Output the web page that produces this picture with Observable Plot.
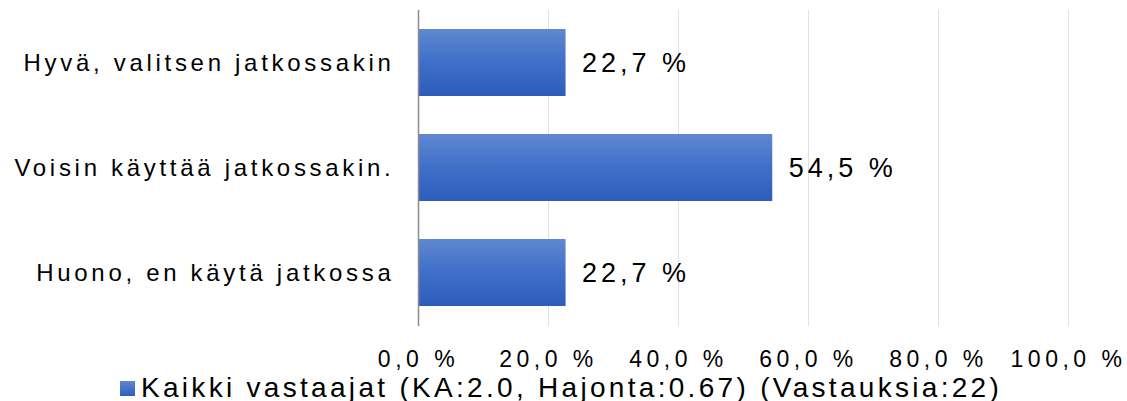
<!DOCTYPE html>
<html>
<head>
<meta charset="utf-8">
<script src="https://cdn.jsdelivr.net/npm/d3@7"></script>
<script src="https://cdn.jsdelivr.net/npm/@observablehq/plot@0.6"></script>
<style>
  body { margin: 0; background: #fff; font-family: "Liberation Sans", Arial, sans-serif; }
  #chart { position: absolute; left: 0; top: 0; }
  #legend { position: absolute; left: 120px; top: 373px; font-size: 28px; line-height: 30px; letter-spacing: 3.3px; color: #000; display: flex; align-items: center; white-space: nowrap; }
  #legend .sw { width: 15px; height: 15px; background: linear-gradient(#5f86cf, #2f5fbd); margin-right: 6px; flex: none; }
</style>
</head>
<body>
<div id="chart"></div>
<div id="legend"><span class="sw"></span><span id="legtext"></span></div>
<script>
const categories = ["Hyvä, valitsen jatkossakin", "Voisin käyttää jatkossakin.", "Huono, en käytä jatkossa"];
const values = [22.7, 54.5, 22.7];
const xTicks = [0, 20, 40, 60, 80, 100];
const seriesName = "Kaikki vastaajat (KA:2.0, Hajonta:0.67) (Vastauksia:22)";

const data = categories.map((c, i) => ({category: c, value: values[i]}));
const fmt = d => d.toFixed(1).replace(".", ",") + " %";

const chart = Plot.plot({
  width: 1127,
  height: 401,
  marginLeft: 418,
  marginRight: 59,
  marginTop: 10,
  marginBottom: 75,
  style: {fontFamily: "Liberation Sans, Arial, sans-serif", background: "#fff"},
  x: {domain: [0, 100], ticks: xTicks, tickFormat: fmt},
  y: {domain: categories, paddingInner: 0.36, paddingOuter: 0.18},
  marks: [
    Plot.gridX(xTicks.filter(d => d > 0), {stroke: "#d9e1f2", strokeOpacity: 1, strokeWidth: 1}),
    Plot.barX(data, {x: "value", y: "category", fill: "url(#bargrad)"}),
    Plot.ruleX([0], {stroke: "#8c8c8c", strokeWidth: 1.5}),
    Plot.text(data, {x: "value", y: "category", text: d => fmt(d.value), textAnchor: "start", dx: 16, fontSize: 27, fill: "#000", className: "vlab"}),
    Plot.axisY({tickSize: 0, tickPadding: 24, fontSize: 24, className: "ylab", label: null}),
    Plot.axisX({ticks: xTicks, tickFormat: fmt, tickSize: 0, tickPadding: 24, fontSize: 23, className: "xlab", label: null})
  ]
});

const svg = d3.select(chart);
const defs = svg.insert("defs", ":first-child");
const g = defs.append("linearGradient").attr("id", "bargrad").attr("x1", 0).attr("y1", 0).attr("x2", 0).attr("y2", 1);
g.append("stop").attr("offset", "0%").attr("stop-color", "#6088d0");
g.append("stop").attr("offset", "50%").attr("stop-color", "#3f6fc8");
g.append("stop").attr("offset", "100%").attr("stop-color", "#2d5dbb");
svg.selectAll(".ylab text").style("letter-spacing", "3.7px").attr("fill", "#000");
svg.selectAll(".xlab text").style("letter-spacing", "4.5px").attr("fill", "#000");
svg.selectAll(".vlab text").style("letter-spacing", "4px");
svg.selectAll(".xlab, .ylab").attr("fill", "#000");

document.getElementById("chart").appendChild(chart);
document.getElementById("legtext").textContent = seriesName;
</script>
</body>
</html>
